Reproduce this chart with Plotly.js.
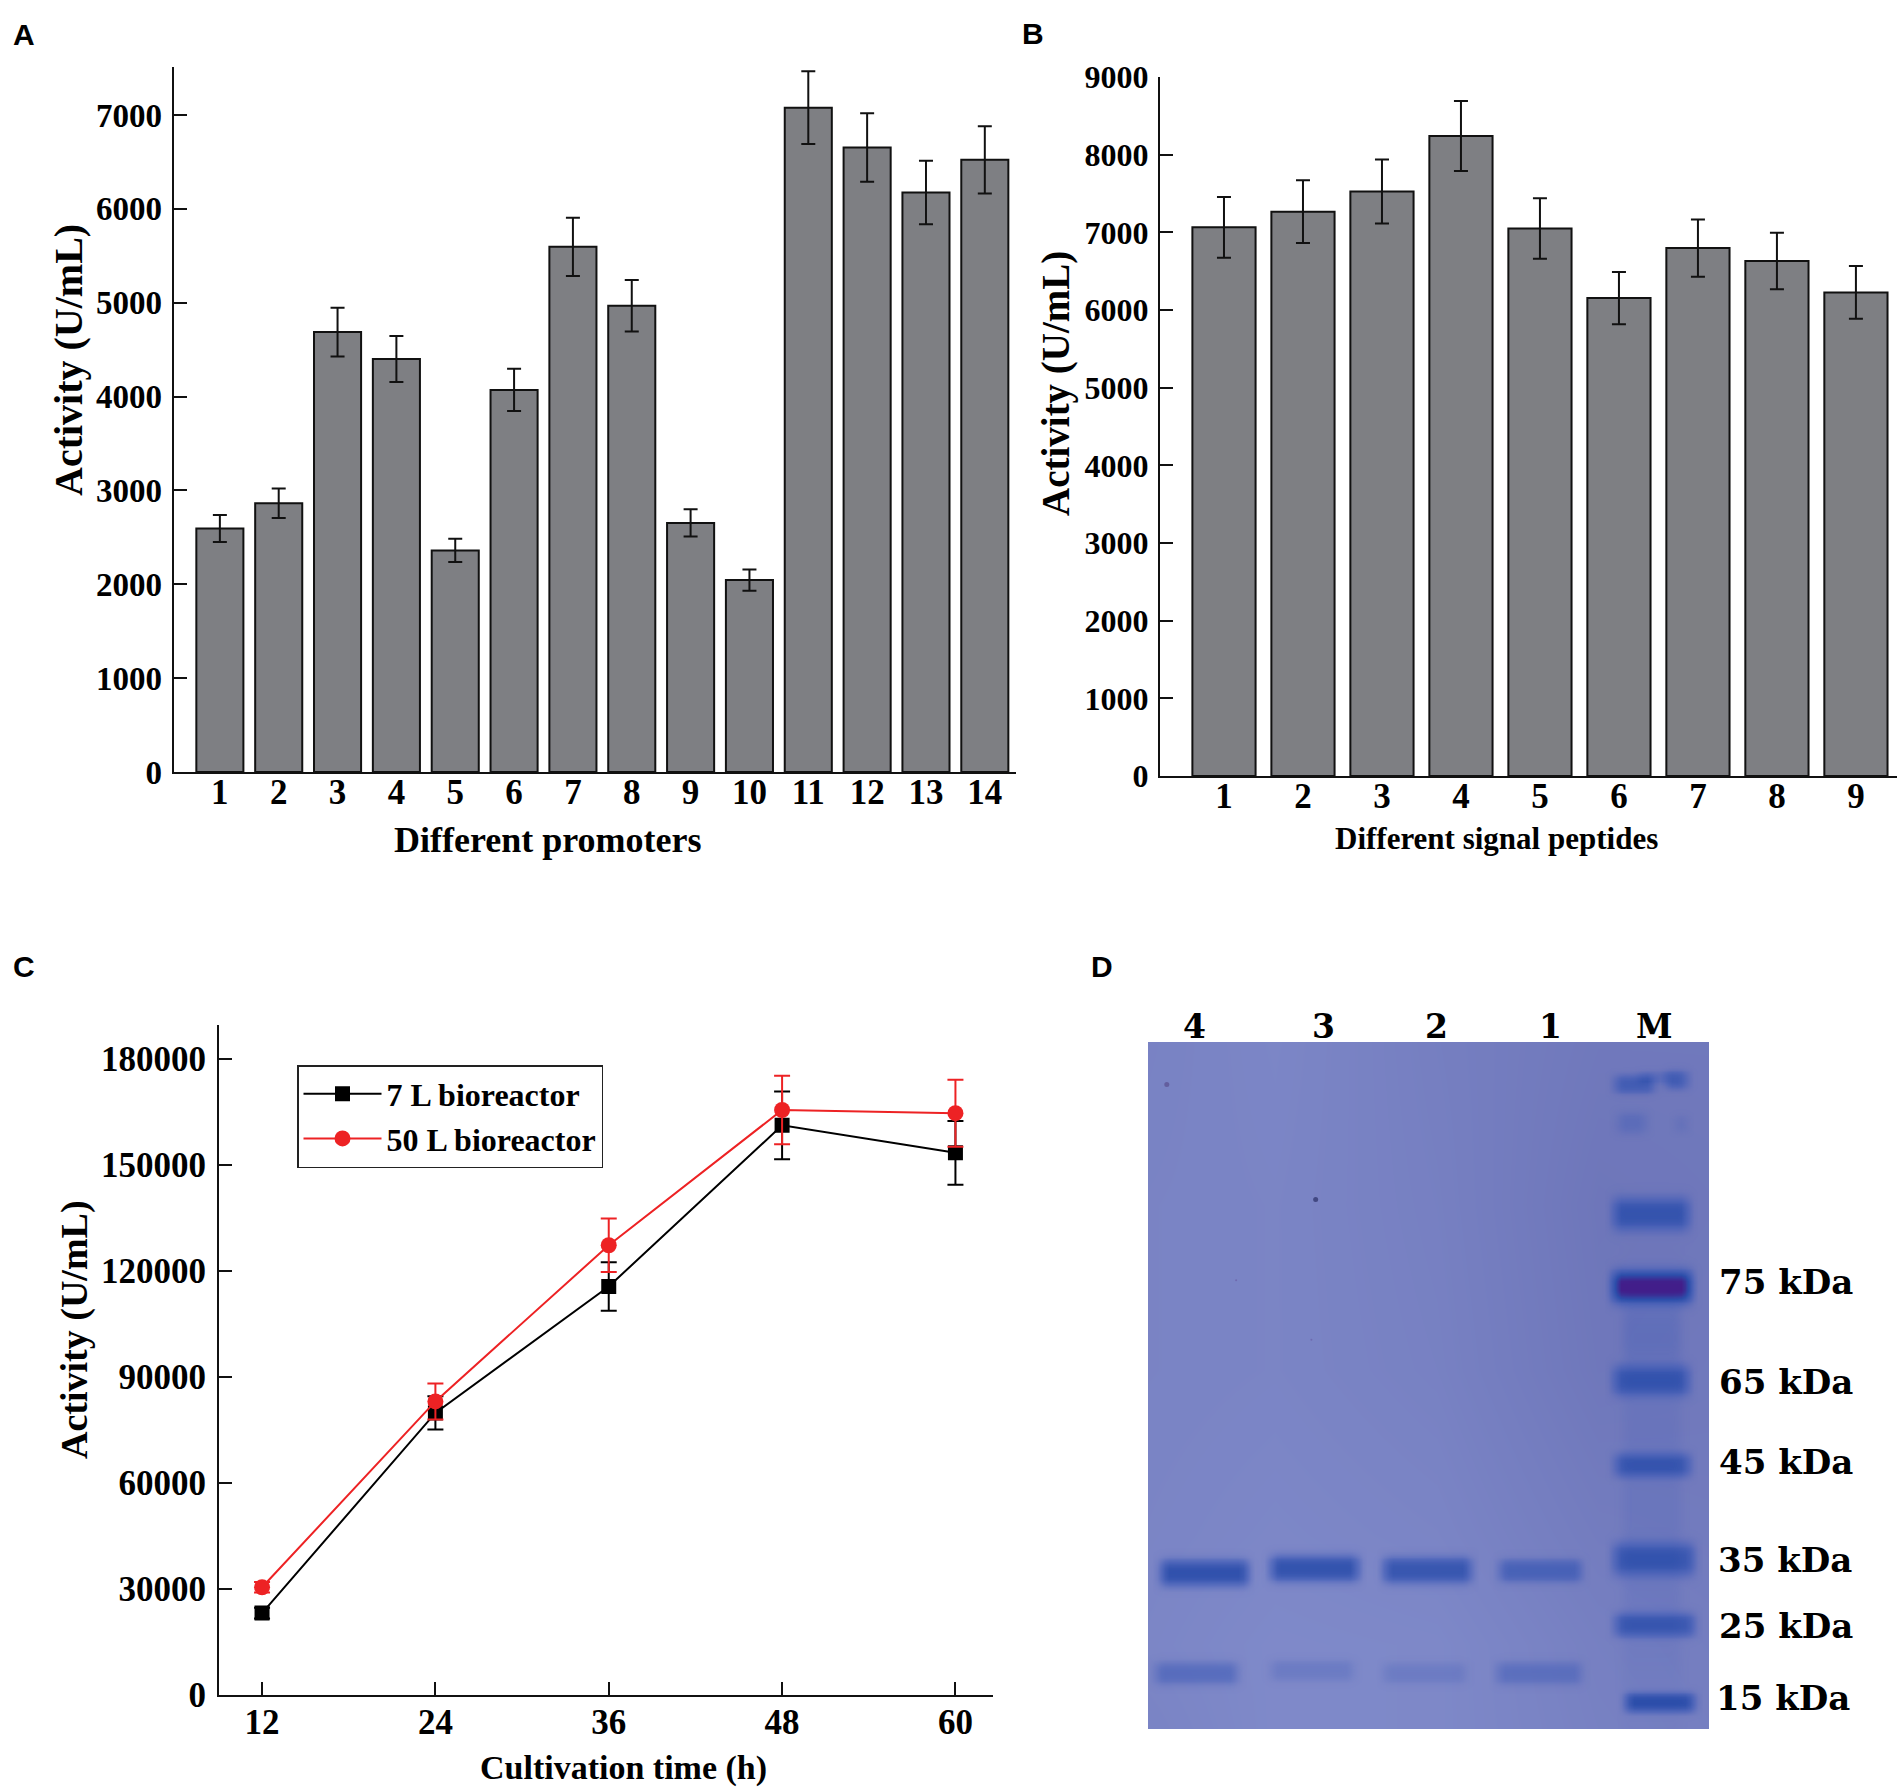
<!DOCTYPE html>
<html>
<head>
<meta charset="utf-8">
<script src="https://cdn.plot.ly/plotly-3.0.1.min.js"></script>
<style>
body { margin: 0; background: #fff; }
#graph { width: 1904px; height: 1792px; }
</style>
</head>
<body>
<div id="graph"></div>
<script>
var W = 1904, H = 1792;
var serif = "'Liberation Serif', serif";
var wideSerif = "'DejaVu Serif', serif";

// panel A
var promoters = [1,2,3,4,5,6,7,8,9,10,11,12,13,14];
var promoterActivity = [2594,2863,4687,4400,2361,4071,5595,4968,2654,2045,7078,6654,6175,6522];
var promoterError = [143,158,260,246,125,224,311,275,146,113,388,365,338,359];

// panel B
var peptides = [1,2,3,4,5,6,7,8,9];
var peptideActivity = [7064,7266,7526,8241,7050,6154,6797,6631,6226];
var peptideError = [390,404,412,451,390,336,368,364,340];

// panel C
var hours = [12,24,36,48,60];
var reactor7L = [23060,79770,115600,161250,153460];
var reactor7LError = [1500,4700,6900,9600,9000];
var reactor50L = [30380,83040,127290,165600,164700];
var reactor50LError = [1500,5100,7600,9700,9500];

// panel D, gel background (0 light, 1 dark)
var gelBgX = [163,400,700,1000,1207];
var gelBgY = [204,500,800,1100,1300,1452];
var gelBg = [
    [0.45,0.30,0.60,0.85,0.85],
    [0.40,0.35,0.55,0.95,0.90],
    [0.40,0.35,0.50,0.90,0.85],
    [0.35,0.25,0.35,0.70,0.75],
    [0.30,0.15,0.20,0.55,0.65],
    [0.40,0.15,0.20,0.50,0.60]
];
// gel bands: left, right, centre, half height, strength
var bandLeft =   [170,375,585,800, 160,375,585,795, 1015,1110,1060,1020,1130,1012,1010,1012,1015,1012,1015,1035,1030,1030];
var bandRight =  [365,570,780,985, 345,560,770,985, 1120,1182,1150,1105,1180,1185,1190,1185,1187,1195,1195,1195,1170,1170];
var bandCentre = [1168,1160,1163,1164, 1350,1345,1350,1350, 280,272,268,350,352,516,648,818,972,1143,1262,1403,730,1050];
var bandHalf =   [24,24,24,21, 21,19,19,21, 17,17,12,20,16,30,30,28,22,30,22,18,55,340];
var bandStrength = [0.66,0.64,0.60,0.44, 0.30,0.15,0.14,0.26, 0.48,0.48,0.18,0.20,0.14,0.62,1.0,0.58,0.54,0.56,0.54,0.68,0.12,0.08];
var speckX = [198,475,327,467];
var speckY = [281,490,637,745];
var speckSize = [5,5,2,2];
var speckColor = ["#5a4f8e","#2b2f66","#6a60a6","#6a60a6"];

var panelLetters = ["A","B","C","D"];
var letterX = [24,1033,24,1102];
var letterY = [34,33,966,966];
var laneLabels = ["4","3","2","1","M"];
var laneX = [1194,1323,1436,1550,1654];
var sizeLabels = ["75 kDa","65 kDa","45 kDa","35 kDa","25 kDa","15 kDa"];
var sizeY = [1282,1382,1462,1560,1626,1698];
var sizeX = [1717,1717,1717,1716,1717,1714];

function domX(a, b) { return [a / W, b / W]; }
function domY(top, bottom) { return [1 - bottom / H, 1 - top / H]; }

function softEdge(v) {
    var t = Math.max(0, Math.min(1, v / 34));
    return t * t * (3 - 2 * t);
}

// band layer on a fine grid, sits on top of the background heatmap
var gelX = [], gelY = [], gelZ = [];
for (var gx = 163; gx <= 1207; gx += 8) gelX.push(gx);
for (var gy = 204; gy <= 1452; gy += 5) gelY.push(gy);
gelY.forEach(function(y) {
    var row = [];
    gelX.forEach(function(x) {
        var z = 0;
        for (var b = 0; b < bandLeft.length; b++) {
            var d = Math.abs(y - bandCentre[b]) / bandHalf[b];
            z += bandStrength[b] * Math.exp(-d * d * d) * softEdge(x - bandLeft[b]) * softEdge(bandRight[b] - x);
        }
        row.push(Math.min(z, 1));
    });
    gelZ.push(row);
});

var barStyle = { color: "#7e7f83", line: { color: "#111", width: 2 } };
function errBar(arr, color, cap) {
    return { type: "data", array: arr, visible: true, color: color, thickness: 2, width: cap };
}

var traces = [
    {
        type: "bar", x: promoters, y: promoterActivity, xaxis: "x", yaxis: "y", width: 0.8,
        marker: barStyle, error_y: errBar(promoterError, "#111", 7), showlegend: false
    },
    {
        type: "bar", x: peptides, y: peptideActivity, xaxis: "x2", yaxis: "y2", width: 0.8,
        marker: barStyle, error_y: errBar(peptideError, "#111", 7), showlegend: false
    },
    {
        type: "scatter", mode: "lines+markers", name: "7 L bioreactor", x: hours, y: reactor7L, xaxis: "x3", yaxis: "y3",
        line: { color: "#000", width: 2 }, marker: { symbol: "square", size: 15, color: "#000" },
        error_y: errBar(reactor7LError, "#000", 8)
    },
    {
        type: "scatter", mode: "lines+markers", name: "50 L bioreactor", x: hours, y: reactor50L, xaxis: "x3", yaxis: "y3",
        line: { color: "#ed2224", width: 2 }, marker: { symbol: "circle", size: 16, color: "#ed2224" },
        error_y: errBar(reactor50LError, "#ed2224", 8)
    },
    {
        type: "heatmap", x: gelBgX, y: gelBgY, z: gelBg, xaxis: "x4", yaxis: "y4", zsmooth: "best", zmin: 0, zmax: 1,
        colorscale: [[0, "#828dcc"], [1, "#6d75b9"]], showscale: false, showlegend: false, hoverinfo: "skip"
    },
    {
        type: "heatmap", x: gelX, y: gelY, z: gelZ, xaxis: "x4", yaxis: "y4", zsmooth: "best", zmin: 0, zmax: 1,
        colorscale: [
            [0, "rgba(60,88,182,0)"],
            [0.3, "rgba(58,88,182,0.55)"],
            [0.7, "rgba(44,78,170,1)"],
            [0.82, "rgba(52,62,160,1)"],
            [1, "rgba(66,30,138,1)"]
        ],
        showscale: false, showlegend: false, hoverinfo: "skip"
    },
    {
        type: "scatter", mode: "markers", x: speckX, y: speckY, xaxis: "x4", yaxis: "y4", showlegend: false,
        marker: { size: speckSize, color: speckColor, line: { width: 0 } }, hoverinfo: "skip"
    }
];

function plainAxis(extra) {
    var ax = {
        showgrid: false, zeroline: false, showline: true, linecolor: "#111", linewidth: 2,
        ticks: "inside", ticklen: 13, tickwidth: 2, tickcolor: "#111", tickformat: "d",
        tickfont: { family: serif, size: 35, color: "#000", weight: "bold" }
    };
    for (var k in extra) ax[k] = extra[k];
    return ax;
}

var annotations = [];
function addText(text, x, y, font, size, anchor, angle) {
    annotations.push({
        text: "<b>" + text + "</b>", x: x / W, y: 1 - y / H, xref: "paper", yref: "paper",
        xanchor: anchor || "center", yanchor: "middle", showarrow: false, textangle: angle || 0,
        font: { family: font, size: size, color: "#000" }
    });
}
addText("Different promoters", 548, 840, serif, 36);
addText("Activity (U/mL)", 68, 360, serif, 40, "center", -90);
addText("Different signal peptides", 1496, 838, serif, 31);
addText("Activity (U/mL)", 1056, 384, serif, 39, "center", -90);
addText("Cultivation time (h)", 623, 1768, serif, 34);
addText("Activity (U/mL)", 74, 1330, serif, 38, "center", -90);
panelLetters.forEach(function(t, i) {
    addText(t, letterX[i], letterY[i], "'Liberation Sans', sans-serif", 30);
});
laneLabels.forEach(function(t, i) {
    addText(t, laneX[i], 1026, wideSerif, 33);
});
sizeLabels.forEach(function(t, i) {
    addText(t, sizeX[i], sizeY[i], wideSerif, 34, "left");
});

var layout = {
    width: W, height: H,
    margin: { l: 0, r: 0, t: 0, b: 0 },
    paper_bgcolor: "#fff", plot_bgcolor: "rgba(0,0,0,0)",
    bargap: 0.2,
    xaxis: plainAxis({ domain: domX(173.5, 1016), range: [0.212, 14.53], anchor: "y", tickvals: promoters, ticks: "", ticklabelstandoff: -12 }),
    yaxis: plainAxis({ domain: domY(67, 772), range: [0, 7511], anchor: "x", tickvals: [0,1000,2000,3000,4000,5000,6000,7000], ticklabelstandoff: 3,
        tickfont: { family: serif, size: 33, color: "#000", weight: "bold" } }),
    xaxis2: plainAxis({ domain: domX(1160, 1897), range: [0.19, 9.52], anchor: "y2", tickvals: peptides, ticks: "", ticklabelstandoff: -12 }),
    yaxis2: plainAxis({ domain: domY(77, 776), range: [0, 9000], anchor: "x2", tickvals: [0,1000,2000,3000,4000,5000,6000,7000,8000,9000], ticklabelstandoff: 3,
        tickfont: { family: serif, size: 32, color: "#000", weight: "bold" } }),
    xaxis3: plainAxis({ domain: domX(219, 993), range: [9.02, 62.6], anchor: "y3", tickvals: hours, ticklabelstandoff: -5 }),
    yaxis3: plainAxis({ domain: domY(1024.6, 1694.5), range: [0, 189800], anchor: "x3", tickvals: [0,30000,60000,90000,120000,150000,180000], ticklabelstandoff: 4 }),
    xaxis4: { domain: domX(1148, 1709), range: [163, 1207], anchor: "y4", visible: false, fixedrange: true },
    yaxis4: { domain: domY(1042, 1729), range: [1452, 204], anchor: "x4", visible: false, fixedrange: true },
    legend: {
        x: 297 / W, y: 1 - 1065 / H, xanchor: "left", yanchor: "top",
        bgcolor: "#fff", bordercolor: "#222", borderwidth: 1.5, itemwidth: 78,
        font: { family: serif, size: 32, color: "#000", weight: "bold" }
    },
    annotations: annotations
};

Plotly.newPlot("graph", traces, layout, { displayModeBar: false });
</script>
</body>
</html>
